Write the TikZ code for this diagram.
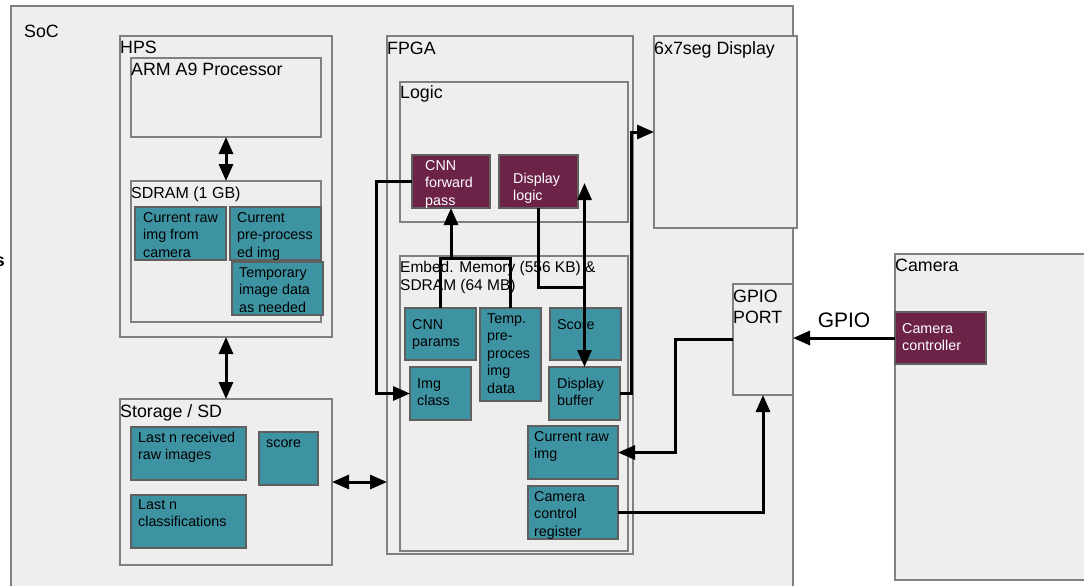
\documentclass[tikz,border=0pt]{standalone}
\usepackage{fontspec}
\setmainfont{Liberation Sans}
\usetikzlibrary{arrows.meta}
\definecolor{boxfill}{RGB}{238,238,238}
\definecolor{boxline}{RGB}{128,128,128}
\definecolor{tealc}{RGB}{62,147,163}
\definecolor{maroonc}{RGB}{108,35,71}
\definecolor{darkline}{RGB}{95,95,95}
\newcommand{\srule}{\rule{0pt}{13pt}}
\newcommand{\mrule}{\rule{0pt}{15pt}}
\begin{document}
\begin{tikzpicture}[x=1pt,y=-1pt,
  bx/.style={draw=boxline, fill=boxfill, line width=1.4pt, anchor=north west, inner sep=0pt, outer sep=0pt},
  tealbx/.style={draw=darkline, fill=tealc, line width=1.2pt, anchor=north west, inner sep=0pt, outer sep=0pt},
  marbx/.style={draw=darkline, fill=maroonc, line width=1.2pt, anchor=north west, inner sep=0pt, outer sep=0pt},
  stxt/.style={font=\fontsize{14.3}{17.5}\selectfont, align=left, inner sep=0pt, anchor=north west, yshift=13pt},
  wtxt/.style={stxt, text=white},
  mtxt/.style={font=\fontsize{17.8}{18}\selectfont, align=left, inner sep=0pt, anchor=north west, yshift=15pt},
  conn/.style={draw=black, line width=3pt},
  tip/.style={-{Triangle[length=17pt 0,width=14pt 0]}},
  dtip/.style={{Triangle[length=17pt 0,width=14pt 0]}-{Triangle[length=17pt 0,width=14pt 0]}}
]
\useasboundingbox (0,0) rectangle (1084,586);
\fill[white] (0,0) rectangle (1084,586);

% SoC
\node[bx, minimum width=782, minimum height=594] (soc) at (11,6) {};
\node[mtxt] (socl) at (24,37) {\mrule SoC};
\node[mtxt, font=\fontsize{17.8}{18}\selectfont\bfseries, anchor=north east] (edge) at (5,266) {\mrule s};

% HPS
\node[bx, minimum width=212, minimum height=301] (hps) at (120,36) {};
\node[mtxt] (hpsl) at (120,53) {\mrule HPS};
\node[bx, minimum width=190, minimum height=79] (arm) at (131,58) {};
\node[mtxt] (arml) at (131,75) {\mrule ARM A9 Processor};
\node[bx, minimum width=190, minimum height=141] (sdram) at (131,181) {};
\node[mtxt, font=\fontsize{16}{18}\selectfont] (sdraml) at (131,198) {\mrule SDRAM (1 GB)};
\node[tealbx, minimum width=91, minimum height=53] (curcam) at (135,207) {};
\node[stxt] (curcaml) at (143,222) {\srule Current raw\\img from\\camera};
\node[tealbx, minimum width=91, minimum height=53] (curpre) at (230,207) {};
\node[stxt] (curprel) at (237,222) {\srule Current\\pre-process\\ed img};
\node[tealbx, minimum width=91, minimum height=53] (tempimg) at (232,262) {};
\node[stxt] (tempimgl) at (239,277) {\srule Temporary\\image data\\as needed};

% Storage
\node[bx, minimum width=212, minimum height=166] (storage) at (120,399) {};
\node[mtxt] (storagel) at (120,417) {\mrule Storage / SD};
\node[tealbx, minimum width=115, minimum height=53] (lastraw) at (131,427) {};
\node[stxt] (lastrawl) at (138,442) {\srule Last n received\\raw images};
\node[tealbx, minimum width=59, minimum height=53] (scoresd) at (259,432) {};
\node[stxt] (scoresdl) at (266,447) {\srule score};
\node[tealbx, minimum width=115, minimum height=53] (lastcls) at (131,495) {};
\node[stxt] (lastclsl) at (138,509) {\srule Last n\\classifications};

% FPGA
\node[bx, minimum width=246, minimum height=518] (fpga) at (387,36) {};
\node[mtxt] (fpgal) at (387,54) {\mrule FPGA};
\node[bx, minimum width=228, minimum height=140] (logic) at (400,82) {};
\node[mtxt] (logicl) at (400,98) {\mrule Logic};
\node[marbx, minimum width=78, minimum height=53] (cnn) at (412,155) {};
\node[wtxt] (cnnl) at (425,170) {\srule CNN\\forward\\pass};
\node[marbx, minimum width=79, minimum height=53] (dlog) at (499,155) {};
\node[wtxt] (dlogl) at (513,183) {\srule Display\\logic};
\node[bx, minimum width=228, minimum height=295] (embed) at (400,256) {};
\node[mtxt, font=\fontsize{15.5}{18}\selectfont] (embedl) at (400,272) {\mrule Embed. Memory (556 KB) \&\\SDRAM (64 MB)};
\node[tealbx, minimum width=71, minimum height=52] (cnnp) at (405,308) {};
\node[stxt] (cnnpl) at (412,329) {\srule CNN\\params};
\node[tealbx, minimum width=61, minimum height=93] (temp) at (480,308) {};
\node[stxt] (templ) at (487,323) {\srule Temp.\\pre-\\proces\\img\\data};
\node[tealbx, minimum width=71, minimum height=52] (scorefp) at (550,308) {};
\node[stxt] (scorefpl) at (557,329) {\srule Score};
\node[tealbx, minimum width=61, minimum height=53] (imgcls) at (410,367) {};
\node[stxt] (imgclsl) at (417,388) {\srule Img\\class};
\node[tealbx, minimum width=71, minimum height=53] (dbuf) at (549,367) {};
\node[stxt] (dbufl) at (557,388) {\srule Display\\buffer};
\node[tealbx, minimum width=90, minimum height=53] (curraw) at (528,426) {};
\node[stxt] (currawl) at (534,441) {\srule Current raw\\img};
\node[tealbx, minimum width=90, minimum height=53] (ccr) at (528,486) {};
\node[stxt] (ccrl) at (534,501) {\srule Camera\\control\\register};

% 6x7seg and GPIO
\node[bx, minimum width=143, minimum height=192] (seg) at (654,36) {};
\node[mtxt] (segl) at (654,54) {\mrule 6x7seg Display};
\node[bx, minimum width=60, minimum height=111] (gpio) at (733,284) {};
\node[mtxt] (gpiol) at (733,302) {\mrule GPIO\\[3pt]PORT};

% Camera
\node[bx, minimum width=190, minimum height=326] (camera) at (895,254) {};
\node[mtxt] (cameral) at (895,271) {\mrule Camera};
\node[marbx, minimum width=91, minimum height=52] (camctl) at (895,312) {};
\node[wtxt] (camctll) at (902,333) {\srule Camera\\controller};

% connectors
\coordinate (bendA) at (376,0);
\draw[conn, tip] (cnn.west) -- (cnn.west -| bendA) |- (imgcls.west);
\coordinate (tj) at (441,258);
\draw[conn] (cnnp.north) |- (temp.north |- tj) -- (temp.north);
\draw[conn, tip] (cnn.south |- tj) -- (cnn.south);
\coordinate (dj) at (584.5,287);
\draw[conn] (dlog.south) |- (dbuf.north |- dj);
\coordinate (dtop) at (584.5,183);
\draw[conn, dtip] (dtop) -- (dbuf.north);
\coordinate (sx) at (631,0);
\draw[conn, tip] (dbuf.east) -- (dbuf.east -| sx) |- (seg.west);
\coordinate (gx) at (675,0);
\draw[conn, tip] (gpio.west) -- (gpio.west -| gx) |- (curraw.east);
\draw[conn, tip] (ccr.east) -| (gpio.south);
\draw[conn, tip] (camctl.west) -- (camctl.west -| gpio.east);
\node[font=\fontsize{21}{24}\selectfont, inner sep=0pt, anchor=base] (gpiolab) at (844,327) {GPIO};
\draw[conn, dtip] (storage.east) -- (storage.east -| fpga.west);
\draw[conn, dtip] (hps.south) -- (storage.north);
\draw[conn, dtip] (arm.south) -- (sdram.north);
\end{tikzpicture}
\end{document}
